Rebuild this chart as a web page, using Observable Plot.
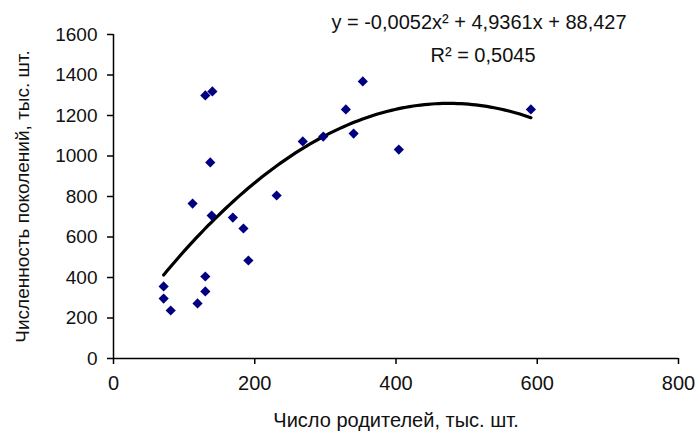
<!DOCTYPE html>
<html>
<head>
<meta charset="utf-8">
<script src="https://cdn.jsdelivr.net/npm/d3@7"></script>
<script src="https://cdn.jsdelivr.net/npm/@observablehq/plot@0.6"></script>
<style>
  html, body { margin: 0; padding: 0; background: #fff; }
  #chart svg { display: block; }
</style>
</head>
<body>
<div id="chart"></div>
<script>
// Parents (x) and offspring (y), thousand units
const parents = [130, 140, 137, 112, 139, 169, 184, 191, 130, 130, 119, 71, 71, 81, 353, 329, 340, 297, 268, 404, 231, 591];
const offspring = [1299, 1319, 968, 765, 706, 696, 642, 484, 405, 331, 272, 356, 296, 237, 1368, 1230, 1111, 1096, 1072, 1032, 805, 1230];
// Polynomial trendline coefficients shown on the chart: a x^2 + b x + c
const trendCoef = [-0.0052, 4.9361, 88.427];
const rSquared = "0,5045";
const xTicks = [0, 200, 400, 600, 800];
const yTicks = [0, 200, 400, 600, 800, 1000, 1200, 1400, 1600];
const xTitle = "Число родителей, тыс. шт.";
const yTitle = "Численность поколений, тыс. шт.";

const points = parents.map((x, i) => ({x, y: offspring[i]}));
const [a, b, c] = trendCoef;
const [xmin, xmax] = d3.extent(parents);
const trend = d3.range(xmin, xmax + 0.001, (xmax - xmin) / 100).map(x => ({x, y: a * x * x + b * x + c}));
const fmt = v => String(v).replace(".", ",");
const eqLine1 = `y = ${fmt(a)}x² + ${fmt(b)}x + ${fmt(c)}`;
const eqLine2 = `R² = ${rSquared}`;

const font = "'Liberation Sans', Arial, sans-serif";

const chart = Plot.plot({
  width: 695,
  height: 443,
  marginLeft: 113,
  marginRight: 17,
  marginTop: 34,
  marginBottom: 85,
  style: {fontFamily: font, fontSize: "20px", color: "#111", background: "#fff"},
  x: {domain: [0, 800], ticks: xTicks},
  y: {domain: [0, 1600], ticks: yTicks},
  marks: [
    Plot.ruleY([0], {stroke: "#000", strokeWidth: 1.5, x1: 0, x2: 800}),
    Plot.ruleX([0], {stroke: "#000", strokeWidth: 1.5, y1: 0, y2: 1600}),
    Plot.axisX({ticks: xTicks, tickFormat: d => String(d), tickSize: 6, tickPadding: 11, stroke: "#000", strokeWidth: 1.5,
      label: xTitle, labelAnchor: "center", labelOffset: 68, labelArrow: "none", fontSize: 20}),
    Plot.axisY({ticks: yTicks, tickFormat: d => String(d), tickSize: 6, tickPadding: 10, stroke: "#000", strokeWidth: 1.5,
      label: yTitle, labelAnchor: "center", labelOffset: 98, labelArrow: "none", fontSize: 19}),
    Plot.line(trend, {x: "x", y: "y", stroke: "#000", strokeWidth: 3.2}),
    Plot.dot(points, {x: "x", y: "y", symbol: "diamond2", r: 4.6, fill: "#000080", stroke: "none"}),
    Plot.text([eqLine1], {frameAnchor: "top", dx: 83, dy: -20, text: d => d, fontSize: 20, letterSpacing: "1px", fill: "#111"}),
    Plot.text([eqLine2], {frameAnchor: "top", dx: 87, dy: 13, text: d => d, fontSize: 20, letterSpacing: "0.6px", fill: "#111"})
  ]
});
document.getElementById("chart").appendChild(chart);
</script>
</body>
</html>
